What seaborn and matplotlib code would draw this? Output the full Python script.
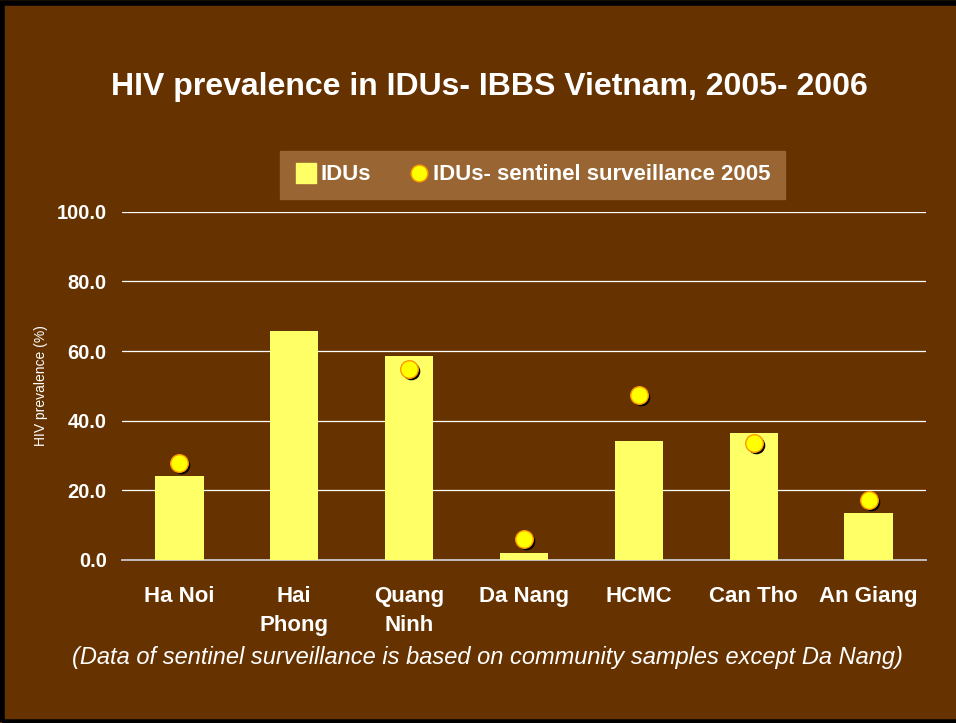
import matplotlib
matplotlib.use("Agg")
import matplotlib.pyplot as plt
import matplotlib.transforms as mtransforms
from matplotlib.lines import Line2D
from matplotlib.patches import Rectangle
import seaborn as sns
import pandas as pd
import numpy as np

# Data
provinces = ["Ha Noi", "Hai\nPhong", "Quang\nNinh", "Da Nang", "HCMC", "Can Tho", "An Giang"]
idu_prevalence = [24.0, 65.8, 58.6, 1.9, 34.1, 36.4, 13.4]
sentinel_2005 = [27.7, None, 54.7, 6.0, 47.3, 33.6, 17.0]
y_ticks = [0, 20, 40, 60, 80, 100]

BG = "#663300"
BAR = "#FFFF66"
DOT = "#FFFF00"

sns.set_theme(style="white")
plt.rcParams["font.family"] = ["Liberation Sans", "DejaVu Sans"]

df = pd.DataFrame({"province": provinces, "idu": idu_prevalence})
dots = pd.DataFrame({"province": provinces, "sentinel": sentinel_2005}).dropna()

fig = plt.figure(figsize=(9.56, 7.23), dpi=100)
fig.patch.set_facecolor(BG)
ax = fig.add_axes([0.1276, 0.2261, 0.841, 0.4807])
ax.set_facecolor(BG)

sns.barplot(data=df, x="province", y="idu", color=BAR, width=0.42,
            saturation=1, linewidth=0, ax=ax, zorder=3)

# shadow of the dots, slightly offset down-right
shadow = mtransforms.offset_copy(ax.transData, fig=fig, x=2, y=-2, units="dots")
sns.scatterplot(data=dots, x="province", y="sentinel", color="black", s=160,
                linewidth=0, ax=ax, zorder=4, transform=shadow, legend=False)
sns.scatterplot(data=dots, x="province", y="sentinel", color=DOT, s=160,
                edgecolor="#FF9900", linewidth=1, ax=ax, zorder=5, legend=False)

ax.set_ylim(0, 100)
ax.set_xlim(-0.5, len(provinces) - 0.5)
ax.set_yticks(y_ticks)
ax.set_yticklabels([f"{v:.1f}" for v in y_ticks], color="white",
                   fontsize=14.5, fontweight="bold")
ax.yaxis.grid(True, color="white", linewidth=0.9, zorder=1)
ax.set_axisbelow(True)
ax.tick_params(axis="y", length=0, pad=11)

ax.set_xlabel("")
ax.set_ylabel("HIV prevalence (%)", color="white", fontsize=10, labelpad=6)
ax.set_xticks(range(len(provinces)))
ax.set_xticklabels(provinces, color="white", fontsize=16, fontweight="bold",
                   linespacing=1.5, va="top")
ax.tick_params(axis="x", which="major", length=0, pad=19)
ax.set_xticks(np.arange(-0.5, len(provinces), 1), minor=True)
ax.tick_params(axis="x", which="minor", length=6, width=1.2, color="#C8C8C8",
               direction="out")

for side in ["left", "right", "top"]:
    ax.spines[side].set_visible(False)
ax.spines["bottom"].set_color("#C8C8C8")
ax.spines["bottom"].set_linewidth(1.3)

fig.text(0.512, 0.879, "HIV prevalence in IDUs- IBBS Vietnam, 2005- 2006",
         ha="center", va="center", color="white", fontsize=23, fontweight="bold")

handles = [
    Line2D([], [], marker="s", linestyle="", markersize=14,
           markerfacecolor=BAR, markeredgecolor=BAR),
    Line2D([], [], marker="o", linestyle="", markersize=12,
           markerfacecolor=DOT, markeredgecolor="#FF9900"),
]
leg = fig.legend(handles, ["IDUs", "IDUs- sentinel surveillance 2005"],
                 loc="center", bbox_to_anchor=(0.557, 0.758), ncol=2,
                 frameon=True, fancybox=False, facecolor="#996633",
                 edgecolor="#996633", framealpha=1, handletextpad=0.1,
                 columnspacing=1.6, borderpad=0.62, handlelength=1.1,
                 prop={"weight": "bold", "size": 16})
for t in leg.get_texts():
    t.set_color("white")

fig.text(0.51, 0.091,
         "(Data of sentinel surveillance is based on community samples except Da Nang)",
         ha="center", va="center", color="white", fontsize=17, style="italic")

# black frame of the slide
fig.patches.append(Rectangle((0.002, 0.002), 1.2, 0.994, transform=fig.transFigure,
                             fill=False, edgecolor="black", linewidth=4))

fig.savefig("out.png", dpi=100, facecolor=BG)
